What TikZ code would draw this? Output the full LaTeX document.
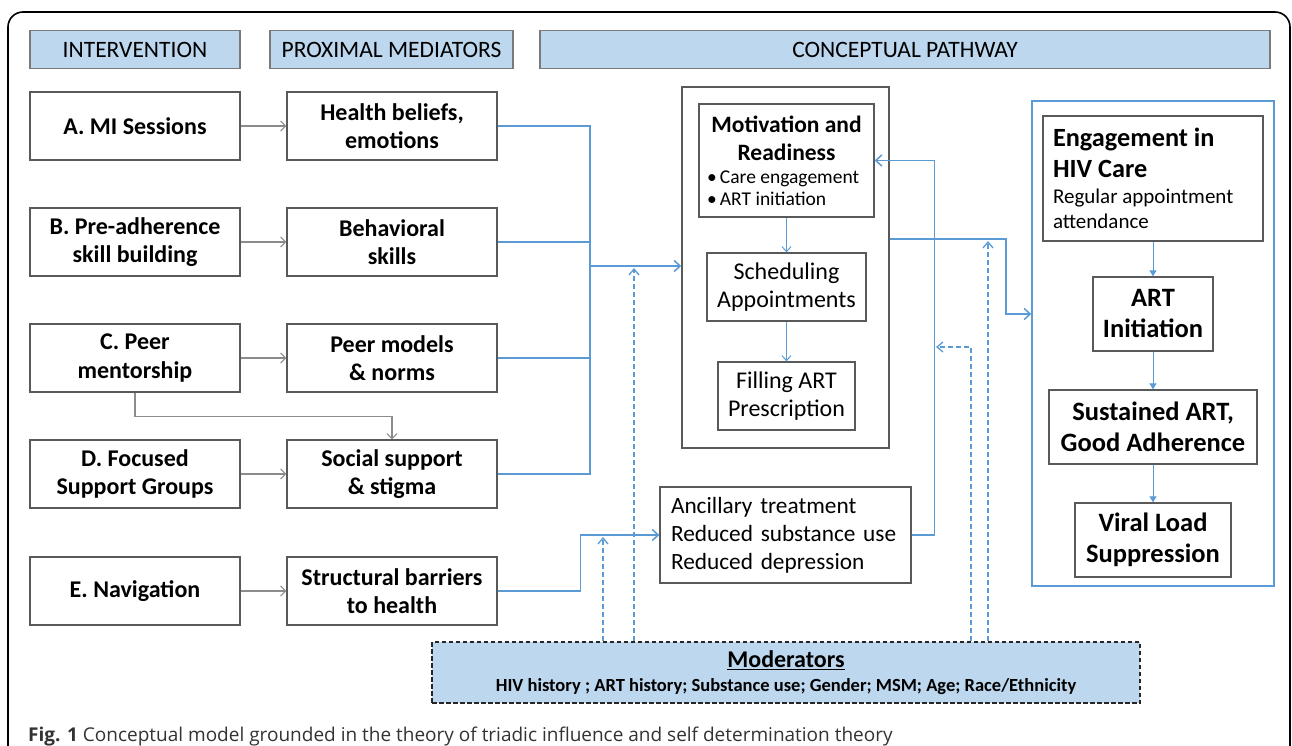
\documentclass[tikz,border=0pt]{standalone}
\usepackage{fontspec}
\setmainfont{Carlito}
\newfontfamily\capfont{Open Sans}
\usetikzlibrary{arrows.meta}
\definecolor{lblue}{HTML}{5B9BD5}
\definecolor{hfill}{HTML}{BDD7EE}
\definecolor{bord}{HTML}{595959}
\definecolor{garr}{HTML}{8C8C8C}
\definecolor{captxt}{HTML}{333333}
\begin{document}
\begin{tikzpicture}[x=1pt,y=-1pt,
  box/.style={draw=bord,line width=1.3pt,fill=white,inner sep=0pt,align=center},
  hdr/.style={draw=bord!80,line width=1.1pt,fill=hfill,inner sep=0pt,minimum height=38pt,font=\fontsize{23.5}{27}\selectfont},
  lbox/.style={box,font=\fontsize{24}{28.5}\selectfont\bfseries,minimum width=210pt,minimum height=68pt},
  rbox/.style={box,font=\fontsize{26.5}{31}\selectfont\bfseries},
  garrow/.style={draw=garr,line width=1.1pt,-{Straight Barb[length=5pt,width=10pt]}},
  barrow/.style={draw=lblue,line width=1.5pt,-{Straight Barb[length=6pt,width=11pt]}},
  bline/.style={draw=lblue,line width=1.5pt},
  darrow/.style={draw=lblue,line width=1.3pt,dash pattern=on 5pt off 3pt,-{Straight Barb[length=6pt,width=10pt]}},
  tarrow/.style={draw=lblue,line width=1pt,-{Triangle[length=6pt,width=7pt]}},
  sarrow/.style={draw=lblue,line width=1pt,-{Straight Barb[length=5pt,width=9pt]}},
]
\useasboundingbox (0,0) rectangle (1292,746);
\fill[white] (0,0) rectangle (1292,746);
% outer frame
\draw[line width=1.6pt,rounded corners=15pt] (8,746) -- (8,12) -- (1290,12) -- (1290,746);

% headers
\node[hdr,minimum width=210pt] (hI) at (135,49.5) {INTERVENTION};
\node[hdr,minimum width=243pt] (hP) at (391.5,49.5) {PROXIMAL MEDIATORS};
\node[hdr,minimum width=730pt] (hC) at (905,49.5) {CONCEPTUAL PATHWAY};

% interventions
\node[lbox] (A) at (135,126) {A. MI Sessions};
\node[lbox] (B) at (135,242) {B. Pre-adherence\\ skill building};
\node[lbox] (C) at (135,358) {C. Peer\\ mentorship};
\node[lbox] (D) at (135,474) {D. Focused\\ Support Groups};
\node[lbox] (E) at (135,591) {E. Navigation};

% mediators
\node[lbox] (M1) at (392,126) {Health beliefs,\\ emotions};
\node[lbox] (M2) at (392,242) {Behavioral\\ skills};
\node[lbox] (M3) at (392,358) {Peer models\\ \& norms};
\node[lbox] (M4) at (392,474) {Social support\\ \& stigma};
\node[lbox] (M5) at (392,591) {Structural barriers\\ to health};

\draw[garrow] (A) -- (M1);
\draw[garrow] (B) -- (M2);
\draw[garrow] (C) -- (M3);
\draw[garrow] (D) -- (M4);
\draw[garrow] (E) -- (M5);
\draw[garrow] (C.south) -- ++(0,24) -| (M4.north);

% motivation block
\node[box,line width=1.5pt,minimum width=207pt,minimum height=361pt] (Mot) at (785.5,267.5) {};
\node[box,minimum width=175pt,minimum height=113pt] (MotIn) at (786.5,160.5)
  {\begin{minipage}{165pt}\centering\fontsize{23.5}{28}\selectfont\bfseries Motivation and\\ Readiness\par\vspace{1pt}
   \raggedright\fontsize{19.5}{22}\selectfont\mdseries\hspace*{3pt}\textbullet\,Care engagement\\ \hspace*{3pt}\textbullet\,ART initiation\end{minipage}};
\node[box,minimum width=159pt,minimum height=68pt,font=\fontsize{24}{28.5}\selectfont] (Sch) at (786.5,287) {Scheduling\\ Appointments};
\node[box,minimum width=137pt,minimum height=68pt,font=\fontsize{24}{28.5}\selectfont] (Fil) at (786.5,396) {Filling ART\\ Prescription};
\draw[sarrow] (MotIn) -- (Sch);
\draw[sarrow] (Sch) -- (Fil);

% ancillary
\node[box,minimum width=251pt,minimum height=96pt,text width=229pt,align=left,font=\fontsize{23.3}{28}\selectfont] (Anc) at (785.5,535) {Ancillary treatment\\ Reduced substance use\\ Reduced depression};

% right block
\node[draw=lblue,line width=1.4pt,minimum width=242pt,minimum height=485pt,inner sep=0pt] (R) at (1153,343.5) {};
\node[box,minimum width=220pt,minimum height=125pt] (Eng) at (1153,178.5)
  {\begin{minipage}{200pt}\raggedright{\fontsize{26.3}{31}\selectfont\bfseries Engagement in\\ HIV Care\par}\vspace{1pt}
   {\fontsize{21}{25}\selectfont Regular appointment\\ attendance\par}\end{minipage}};
\node[rbox,minimum width=120pt,minimum height=74pt] (ARTi) at (1153,314) {ART\\ Initiation};
\node[rbox,minimum width=208pt,minimum height=74pt] (Sus) at (1153,427) {Sustained ART,\\ Good Adherence};
\node[rbox,minimum width=156pt,minimum height=74pt] (Vir) at (1153,540) {Viral Load\\ Suppression};
\draw[tarrow] (Eng) -- (ARTi);
\draw[tarrow] (ARTi) -- (Sus);
\draw[tarrow] (Sus) -- (Vir);

% moderators
\node[draw=black!85,line width=1.6pt,dash pattern=on 4.5pt off 2.5pt,fill=hfill,minimum width=708pt,minimum height=61pt,inner sep=0pt] (Mod) at (786,672.5)
  {\begin{minipage}{700pt}\centering\bfseries{\fontsize{24}{28}\selectfont\underline{Moderators}\par}
   {\fontsize{18.5}{24}\selectfont HIV history ; ART history; Substance use; Gender; MSM; Age; Race/Ethnicity\par}\end{minipage}};

% blue connectors
\coordinate (bus) at (590,266);
\draw[bline] (M1.east) -| (bus);
\draw[bline] (M2.east) -| (bus);
\draw[bline] (M3.east) -| (bus);
\draw[bline] (M4.east) -| (bus);
\draw[barrow] (bus) -- (bus -| Mot.west);
\draw[barrow] (M5.east) -- ++(83,0) |- (Anc.west);
\draw[barrow] (Anc.east) -- ++(23,0) |- (MotIn.east);
\draw[barrow] ([yshift=28.5pt]Mot.east) -| (1006,314) -- (ARTi -| R.west);

% dashed moderator arrows
\coordinate (t1) at (603,537);
\coordinate (t2) at (634,268);
\coordinate (t3) at (936,347);
\coordinate (t4) at (988,241);
\draw[darrow] ([xshift=-183pt]Mod.north) -- (t1);
\draw[darrow] ([xshift=-152pt]Mod.north) -- (t2);
\draw[darrow] ([xshift=185pt]Mod.north) |- (t3);
\draw[darrow] ([xshift=202pt]Mod.north) -- (t4);

% caption
\node[anchor=base west,inner sep=0pt,text=captxt] (cap) at (28,741) {\capfont\fontsize{19}{23}\selectfont\textbf{Fig. 1} Conceptual model grounded in the theory of triadic influence and self determination theory};
\end{tikzpicture}
\end{document}
